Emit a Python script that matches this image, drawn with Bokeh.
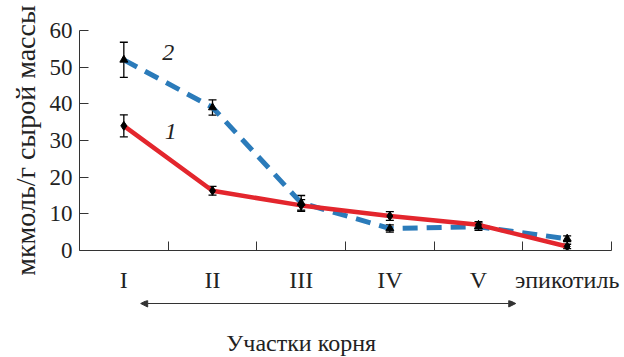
from bokeh.plotting import figure
from bokeh.layouts import column
from bokeh.models import (ColumnDataSource, FixedTicker, Whisker, TeeHead, Arrow,
                          NormalHead, Label, Range1d)
from bokeh.embed import file_html
from bokeh.resources import INLINE

categories = ["I", "II", "III", "IV", "V", "эпикотиль"]
series1 = [34.0, 16.3, 12.3, 9.4, 7.0, 1.1]
series1_err = [3.0, 1.2, 1.6, 1.2, 0.9, 0.6]
series2 = [52.0, 39.0, 13.0, 6.0, 6.5, 3.2]
series2_err = [4.8, 2.1, 2.0, 1.0, 1.0, 0.8]
y_ticks = [0, 10, 20, 30, 40, 50, 60]

FONT = "Liberation Serif"
TXT = "#222222"
xpos = [i + 0.5 for i in range(len(categories))]

src1 = ColumnDataSource(dict(x=xpos, y=series1,
                             lo=[v - e for v, e in zip(series1, series1_err)],
                             hi=[v + e for v, e in zip(series1, series1_err)]))
src2 = ColumnDataSource(dict(x=xpos, y=series2,
                             lo=[v - e for v, e in zip(series2, series2_err)],
                             hi=[v + e for v, e in zip(series2, series2_err)]))

p = figure(width=624, height=300, output_backend="svg", toolbar_location=None,
           x_range=Range1d(0, len(categories)), y_range=Range1d(0, 60),
           min_border_left=79, min_border_right=13, min_border_top=30, min_border_bottom=50)
p.outline_line_color = None
p.xgrid.visible = False
p.ygrid.visible = False

# lines
p.line("x", "y", source=src2, line_color="#2b7bba", line_width=5, line_dash="15 9")
p.line("x", "y", source=src1, line_color="#e3262d", line_width=4.5)

# markers
p.scatter("x", "y", source=src1, marker="diamond", size=9, color="black")
p.scatter("x", "y", source=src2, marker="triangle", size=8, color="black")

for s in (src1, src2):
    w = Whisker(source=s, base="x", upper="hi", lower="lo", line_color="black", line_width=1.3,
                upper_head=TeeHead(size=8, line_color="black", line_width=1.3),
                lower_head=TeeHead(size=8, line_color="black", line_width=1.3))
    p.add_layout(w)

# axes
xa = p.xaxis[0]
xa.ticker = FixedTicker(ticks=xpos, minor_ticks=list(range(1, len(categories) + 1)))
xa.major_label_overrides = {x: c for x, c in zip(xpos, categories)}
xa.major_tick_line_color = None
xa.minor_tick_in = 9
xa.minor_tick_out = 0
xa.minor_tick_line_color = "#333333"
xa.axis_line_color = "#333333"
xa.major_label_text_font = FONT
xa.major_label_text_font_size = "24px"
xa.major_label_text_color = TXT
xa.major_label_standoff = 10

ya = p.yaxis[0]
ya.ticker = FixedTicker(ticks=y_ticks)
ya.minor_tick_line_color = None
ya.major_tick_in = 9
ya.major_tick_out = 0
ya.major_tick_line_color = "#333333"
ya.axis_line_color = "#333333"
ya.major_label_text_font = FONT
ya.major_label_text_font_size = "23px"
ya.major_label_text_color = TXT
ya.major_label_standoff = 7
ya.axis_label = "мкмоль/г сырой массы"
ya.axis_label_text_font = FONT
ya.axis_label_text_font_style = "normal"
ya.axis_label_text_font_size = "28px"
ya.axis_label_text_color = TXT
ya.axis_label_standoff = 6

# series labels
p.add_layout(Label(x=1.0, y=54, text="2", text_font=FONT, text_font_style="italic",
                   text_font_size="24px", text_color=TXT, text_align="center",
                   text_baseline="middle"))
p.add_layout(Label(x=1.03, y=32.5, text="1", text_font=FONT, text_font_style="italic",
                   text_font_size="24px", text_color=TXT, text_align="center",
                   text_baseline="middle"))

# lower panel: arrow and caption
p2 = figure(width=624, height=57, output_backend="svg", toolbar_location=None,
            x_range=p.x_range, y_range=Range1d(57, 0),
            min_border_left=79, min_border_right=13, min_border_top=0, min_border_bottom=0)
p2.outline_line_color = None
p2.axis.visible = False
p2.grid.visible = False
p2.add_layout(Arrow(x_start=0.69, y_start=3, x_end=4.92, y_end=3,
                    line_color="#333333", line_width=1.2,
                    start=NormalHead(size=7, fill_color="#333333", line_color="#333333"),
                    end=NormalHead(size=7, fill_color="#333333", line_color="#333333")))
p2.add_layout(Label(x=2.5, y=42, text="Участки корня", text_font=FONT,
                    text_font_size="24px", text_color=TXT, text_align="center",
                    text_baseline="middle"))

layout = column(p, p2, spacing=0)
open("out.html", "w").write(file_html(layout, INLINE))
